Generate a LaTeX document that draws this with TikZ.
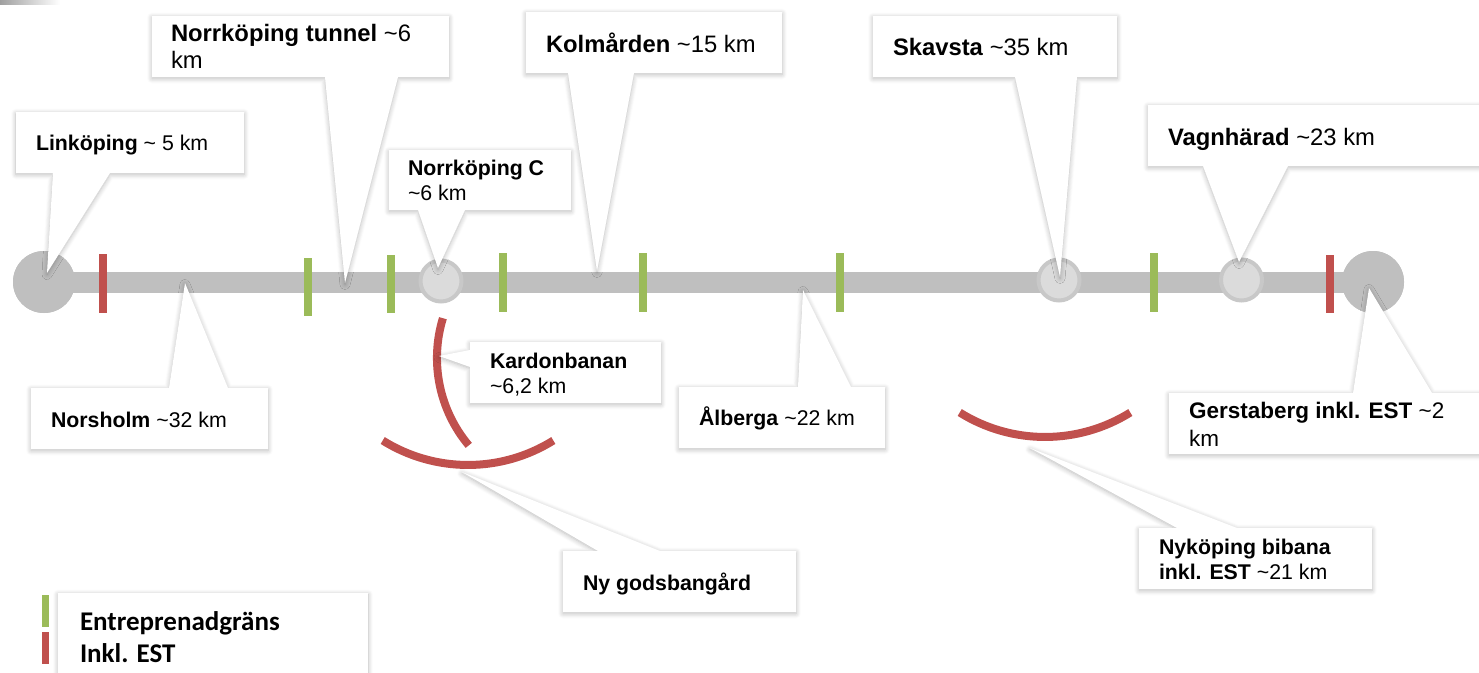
\documentclass[tikz,border=0pt]{standalone}
\usepackage{fontspec}
\setmainfont{Liberation Sans}
\newfontfamily\legendfont{Carlito}
\usetikzlibrary{shadows.blur}
\definecolor{trackgray}{HTML}{BFBFBF}
\definecolor{stationfill}{HTML}{DBDBDB}
\definecolor{stationrim}{HTML}{C8C8C8}
\definecolor{estred}{HTML}{C0504D}
\definecolor{gransgreen}{HTML}{9BBB59}
\begin{document}
\begin{tikzpicture}[x=1pt,y=-1pt,
  callout/.style={fill=white, blur shadow={shadow xshift=0pt, shadow yshift=-1.5pt, shadow blur radius=5pt, shadow opacity=28, shadow blur steps=6}},
  frame/.style={rectangle, inner sep=0pt, outer sep=0pt, anchor=north west},
  lbl/.style={inner sep=0pt, outer sep=0pt, anchor=base west, font=\fontsize{21.3}{25}\selectfont},
  lblbig/.style={lbl, font=\fontsize{23.8}{27}\selectfont},
  lblmid/.style={lbl, font=\fontsize{22.5}{27}\selectfont},
  legtxt/.style={inner sep=0pt, outer sep=0pt, anchor=base west, font=\legendfont\bfseries\fontsize{27}{32}\selectfont},
  track/.style={draw=trackgray, line width=21pt},
  bigstation/.style={circle, fill=trackgray, minimum size=62pt, inner sep=0pt},
  station/.style={circle, fill=stationfill, draw=stationrim, line width=4pt, minimum size=41pt, inner sep=0pt},
  redtick/.style={draw=estred, line width=8pt},
  greentick/.style={draw=gransgreen, line width=8pt},
  estarc/.style={draw=estred, line width=8pt},
]
\useasboundingbox (0,0) rectangle (1479,672);
\clip (0,0) rectangle (1479,672);

% top-left artefact
\shade[left color=gray!75, right color=white] (0,0) rectangle (60,4);

% stations and track
\node[bigstation] (linc) at (44,282) {};
\node[bigstation] (gerc) at (1373,282) {};
\draw[track] (linc.center) -- (gerc.center);
\node[bigstation] at (44,282) {};
\node[bigstation] at (1373,282) {};
\node[station] (nkcc) at (441,281) {};
\node[station] (skac) at (1059,280) {};
\node[station] (vagc) at (1241.5,280) {};

% boundary ticks
\draw[redtick] (102.5,254) -- (102.5,313);
\draw[redtick] (1330,255) -- (1330,313);
\draw[greentick] (307.5,258) -- (307.5,316);
\draw[greentick] (391,255) -- (391,313);
\draw[greentick] (502.5,253) -- (502.5,312);
\draw[greentick] (642.5,253) -- (642.5,312);
\draw[greentick] (840,253) -- (840,312);
\draw[greentick] (1153.5,253) -- (1153.5,312);

% branch arcs
\draw[estarc] (442.9,318.2) arc[start angle=197, end angle=140, radius=136];
\draw[estarc] (382.7,440.5) arc[start angle=122, end angle=58, radius=161];
\draw[estarc] (959.7,412.5) arc[start angle=122, end angle=58, radius=161];

% pointer tips
\coordinate (lin-tip) at (47,273);
\coordinate (tun-tip) at (345,283);
\coordinate (nkc-tip) at (438,268);
\coordinate (kol-tip) at (597,271);
\coordinate (ska-tip) at (1060,277);
\coordinate (vag-tip) at (1239,262);
\coordinate (nor-tip) at (185,283);
\coordinate (kar-tip) at (439,356);
\coordinate (alb-tip) at (803,290);
\coordinate (ngb-tip) at (462,472);
\coordinate (ger-tip) at (1369,288);
\coordinate (nyk-tip) at (1030,448);

% callout frames
\node[frame, minimum width=228pt, minimum height=61pt] (lin) at (16,112) {};
\node[frame, minimum width=297pt, minimum height=61pt] (tun) at (152,16) {};
\node[frame, minimum width=182pt, minimum height=60pt] (nkc) at (389,150) {};
\node[frame, minimum width=256pt, minimum height=61pt] (kol) at (526,12) {};
\node[frame, minimum width=244pt, minimum height=61pt] (ska) at (873,16) {};
\node[frame, minimum width=360pt, minimum height=61pt] (vag) at (1148,105) {};
\node[frame, minimum width=237pt, minimum height=61pt] (nor) at (31,388) {};
\node[frame, minimum width=191pt, minimum height=61pt] (kar) at (470,342) {};
\node[frame, minimum width=206pt, minimum height=61pt] (alb) at (679,387) {};
\node[frame, minimum width=233pt, minimum height=61pt] (ngb) at (563,551) {};
\node[frame, minimum width=330pt, minimum height=61pt] (ger) at (1169,393) {};
\node[frame, minimum width=233pt, minimum height=61pt] (nyk) at (1139,528) {};

% callout bodies, pointer below the box
\fill[callout] (lin.north west) -- (lin.north east) -- (lin.south east) -- ([xshift=94pt]lin.south west) -- (lin-tip) -- ([xshift=37pt]lin.south west) -- (lin.south west) -- cycle;
\fill[callout] (tun.north west) -- (tun.north east) -- (tun.south east) -- ([xshift=246pt]tun.south west) -- (tun-tip) -- ([xshift=173pt]tun.south west) -- (tun.south west) -- cycle;
\fill[callout] (nkc.north west) -- (nkc.north east) -- (nkc.south east) -- ([xshift=76pt]nkc.south west) -- (nkc-tip) -- ([xshift=29pt]nkc.south west) -- (nkc.south west) -- cycle;
\fill[callout] (kol.north west) -- (kol.north east) -- (kol.south east) -- ([xshift=108pt]kol.south west) -- (kol-tip) -- ([xshift=42pt]kol.south west) -- (kol.south west) -- cycle;
\fill[callout] (ska.north west) -- (ska.north east) -- (ska.south east) -- ([xshift=204pt]ska.south west) -- (ska-tip) -- ([xshift=142pt]ska.south west) -- (ska.south west) -- cycle;
\fill[callout] (vag.north west) -- (vag.north east) -- (vag.south east) -- ([xshift=140pt]vag.south west) -- (vag-tip) -- ([xshift=55pt]vag.south west) -- (vag.south west) -- cycle;
% pointer above the box
\fill[callout] (nor.north west) -- ([xshift=138pt]nor.north west) -- (nor-tip) -- ([xshift=197pt]nor.north west) -- (nor.north east) -- (nor.south east) -- (nor.south west) -- cycle;
\fill[callout] (alb.north west) -- ([xshift=119pt]alb.north west) -- (alb-tip) -- ([xshift=172pt]alb.north west) -- (alb.north east) -- (alb.south east) -- (alb.south west) -- cycle;
\fill[callout] (ngb.north west) -- ([xshift=35pt]ngb.north west) -- (ngb-tip) -- ([xshift=97pt]ngb.north west) -- (ngb.north east) -- (ngb.south east) -- (ngb.south west) -- cycle;
\fill[callout] (ger.north west) -- ([xshift=184pt]ger.north west) -- (ger-tip) -- ([xshift=263pt]ger.north west) -- (ger.north east) -- (ger.south east) -- (ger.south west) -- cycle;
\fill[callout] (nyk.north west) -- ([xshift=38pt]nyk.north west) -- (nyk-tip) -- ([xshift=98pt]nyk.north west) -- (nyk.north east) -- (nyk.south east) -- (nyk.south west) -- cycle;
% pointer on the left side
\fill[callout] (kar.north west) -- (kar.north east) -- (kar.south east) -- (kar.south west) -- ([yshift=-25pt]kar.north west) -- (kar-tip) -- ([yshift=-8pt]kar.north west) -- cycle;

% callout texts
\node[lbl] (lin-t) at (36,150) {\textbf{Linköping} \textasciitilde{} 5 km};
\node[lblbig] (tun-t1) at (171,41) {\textbf{Norrköping tunnel} \textasciitilde6};
\node[lblbig] (tun-t2) at (171,68) {km};
\node[lbl] (nkc-t1) at (408,175) {\textbf{Norrköping C}};
\node[lbl] (nkc-t2) at (408,200) {\textasciitilde6 km};
\node[lblbig] (kol-t) at (546,52) {\textbf{Kolmården} \textasciitilde15 km};
\node[lblbig] (ska-t) at (893,55) {\textbf{Skavsta} \textasciitilde35 km};
\node[lblbig] (vag-t) at (1168,145) {\textbf{Vagnhärad} \textasciitilde23 km};
\node[lbl] (nor-t) at (51,427) {\textbf{Norsholm} \textasciitilde32 km};
\node[lbl] (kar-t1) at (490,368) {\textbf{Kardonbanan}};
\node[lbl] (kar-t2) at (490,393) {\textasciitilde6,2 km};
\node[lbl] (alb-t) at (699,425) {\textbf{Ålberga} \textasciitilde22 km};
\node[lbl] (ngb-t) at (583,590) {\textbf{Ny godsbangård}};
\node[lblmid] (ger-t1) at (1189,418) {\textbf{Gerstaberg inkl. EST} \textasciitilde2};
\node[lblmid] (ger-t2) at (1189,446) {km};
\node[lbl] (nyk-t1) at (1159,554) {\textbf{Nyköping bibana}};
\node[lbl] (nyk-t2) at (1159,579) {\textbf{inkl. EST} \textasciitilde21 km};

% legend
\node[frame, callout, minimum width=310pt, minimum height=110pt] (leg) at (58,593) {};
\draw[greentick, line width=7pt] (45,595) -- (45,627);
\draw[redtick, line width=7pt] (45,632) -- (45,664);
\node[legtxt] (leg-t1) at (80,630) {Entreprenadgräns};
\node[legtxt] (leg-t2) at (80,662) {Inkl. EST};
\end{tikzpicture}
\end{document}
